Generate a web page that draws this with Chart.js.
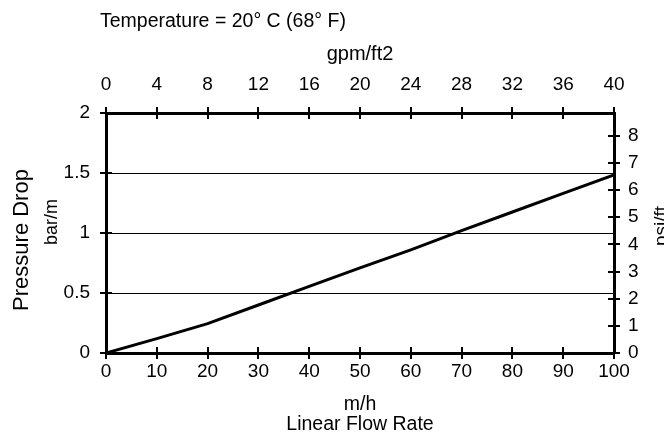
<!DOCTYPE html>
<html>
<head>
<meta charset="utf-8">
<script src="https://cdn.jsdelivr.net/npm/chart.js@4.4.1/dist/chart.umd.min.js"></script>
<style>
html,body{margin:0;padding:0;background:#fff;overflow:hidden;}
canvas{display:block;}
</style>
</head>
<body>
<canvas id="c" width="664" height="436"></canvas>
<script>
// Data
const flowRate = [0, 10, 20, 30, 40, 50, 60, 70, 80, 90, 100];           // m/h
const pressureDrop = [0, 0.12, 0.245, 0.40, 0.555, 0.71, 0.86, 1.02, 1.175, 1.33, 1.485]; // bar/m

// Tick labels
const bottomTicks = [0, 10, 20, 30, 40, 50, 60, 70, 80, 90, 100];
const topTicks = [0, 4, 8, 12, 16, 20, 24, 28, 32, 36, 40];
const leftTicks = [0, 0.5, 1, 1.5, 2];
const rightTicks = [0, 1, 2, 3, 4, 5, 6, 7, 8];

// Texts
const chartTitle = 'Temperature = 20° C (68° F)';
const topAxisTitle = 'gpm/ft2';
const bottomAxisTitle = 'm/h';
const bottomAxisSubtitle = 'Linear Flow Rate';
const leftAxisTitle = 'Pressure Drop';
const leftAxisUnit = 'bar/m';
const rightAxisTitle = 'psi/ft';

const FONT = '"Liberation Sans", Arial, Helvetica, sans-serif';
const tickFont = {family: FONT, size: 19, lineHeight: 1};

const points = flowRate.map((x, i) => ({x: x, y: pressureDrop[i]}));

const setTicks = arr => scale => { scale.ticks = arr.map(v => ({value: v})); };
const plainLabel = v => String(v);

const crossTicks = {
  id: 'crossTicks',
  beforeDatasetsDraw(chart) {
    const ctx = chart.ctx, a = chart.chartArea;
    ctx.save();
    ctx.strokeStyle = '#000';
    ctx.lineWidth = 2;
    const L = 6;
    const sx = chart.scales.x, sx2 = chart.scales.x2, sy = chart.scales.y, sy2 = chart.scales.y2;
    sx.ticks.forEach(t => { const p = Math.round(sx.getPixelForValue(t.value)); ctx.beginPath(); ctx.moveTo(p, a.bottom - L); ctx.lineTo(p, a.bottom + L); ctx.stroke(); });
    sx2.ticks.forEach(t => { const p = Math.round(sx2.getPixelForValue(t.value)); ctx.beginPath(); ctx.moveTo(p, a.top - L); ctx.lineTo(p, a.top + L); ctx.stroke(); });
    sy.ticks.forEach(t => { const p = Math.round(sy.getPixelForValue(t.value)); ctx.beginPath(); ctx.moveTo(a.left - L, p); ctx.lineTo(a.left + L, p); ctx.stroke(); });
    sy2.ticks.forEach(t => { const p = Math.round(sy2.getPixelForValue(t.value)); ctx.beginPath(); ctx.moveTo(a.right - L, p); ctx.lineTo(a.right + L, p); ctx.stroke(); });
    ctx.restore();
  }
};

const titles = {
  id: 'titles',
  afterDraw(chart) {
    const ctx = chart.ctx, a = chart.chartArea;
    const cx = (a.left + a.right) / 2;
    ctx.save();
    ctx.fillStyle = '#000';
    ctx.textBaseline = 'alphabetic';
    ctx.font = '19.5px ' + FONT;
    ctx.textAlign = 'left';
    ctx.fillText(chartTitle, 100, 27);
    ctx.textAlign = 'center';
    ctx.font = '20px ' + FONT;
    ctx.fillText(topAxisTitle, cx, 60);
    ctx.font = '19.5px ' + FONT;
    ctx.fillText(bottomAxisTitle, cx, 410);
    ctx.fillText(bottomAxisSubtitle, cx, 430);
    const rot = (text, x, y, size) => {
      ctx.save();
      ctx.translate(x, y);
      ctx.rotate(-Math.PI / 2);
      ctx.font = size + 'px ' + FONT;
      ctx.textAlign = 'center';
      ctx.fillText(text, 0, 0);
      ctx.restore();
    };
    rot(leftAxisTitle, 28, 240, 22);
    rot(leftAxisUnit, 57, 222, 18);
    rot(rightAxisTitle, 667, 226, 19);
    ctx.restore();
  }
};

new Chart(document.getElementById('c'), {
  type: 'line',
  data: {
    datasets: [{
      data: points,
      xAxisID: 'x',
      yAxisID: 'y',
      borderColor: '#000',
      borderWidth: 3,
      pointRadius: 0,
      tension: 0,
      fill: false
    }]
  },
  options: {
    responsive: false,
    devicePixelRatio: 1,
    animation: false,
    layout: {padding: 0},
    plugins: {legend: {display: false}, tooltip: {enabled: false}, title: {display: false}},
    scales: {
      x: {
        type: 'linear', position: 'bottom', min: 0, max: 100,
        afterBuildTicks: setTicks(bottomTicks),
        afterFit: s => { s.height = 83; },
        grid: {display: true, drawOnChartArea: false, drawTicks: false},
        border: {display: true, color: '#000', width: 3},
        ticks: {color: '#000', font: tickFont, padding: 9, autoSkip: false, maxRotation: 0, callback: plainLabel}
      },
      x2: {
        type: 'linear', position: 'top', min: 0, max: 40,
        afterBuildTicks: setTicks(topTicks),
        afterFit: s => { s.height = 113; },
        grid: {display: true, drawOnChartArea: false, drawTicks: false},
        border: {display: true, color: '#000', width: 3},
        ticks: {color: '#000', font: tickFont, padding: 19, autoSkip: false, maxRotation: 0, callback: plainLabel}
      },
      y: {
        type: 'linear', position: 'left', min: 0, max: 2,
        afterBuildTicks: setTicks(leftTicks),
        afterFit: s => { s.width = 106; },
        grid: {display: true, drawOnChartArea: true, drawTicks: false, color: '#000', lineWidth: 1},
        border: {display: true, color: '#000', width: 3},
        ticks: {color: '#000', font: tickFont, padding: 16, autoSkip: false, callback: plainLabel}
      },
      y2: {
        type: 'linear', position: 'right', min: 0, max: 8.84,
        afterBuildTicks: setTicks(rightTicks),
        afterFit: s => { s.width = 50; },
        grid: {display: true, drawOnChartArea: false, drawTicks: false},
        border: {display: true, color: '#000', width: 3},
        ticks: {color: '#000', font: tickFont, padding: 14, autoSkip: false, callback: plainLabel}
      }
    }
  },
  plugins: [crossTicks, titles]
});
</script>
</body>
</html>
